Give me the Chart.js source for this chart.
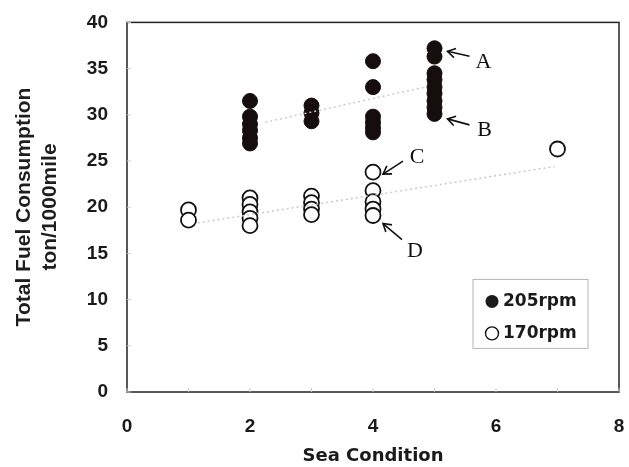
<!DOCTYPE html>
<html>
<head>
<meta charset="utf-8">
<script src="https://cdn.jsdelivr.net/npm/chart.js@4.4.0/dist/chart.umd.min.js"></script>
<style>
  html, body { margin: 0; padding: 0; background: #ffffff; }
  #wrap { width: 629px; height: 467px; }
</style>
</head>
<body>
<div id="wrap"><canvas id="fuelChart" width="629" height="467"></canvas></div>
<script>
// Sea condition vs fuel consumption
const rpm205X = [2, 2, 2, 2, 2, 2, 3, 3, 3, 4, 4, 4, 4, 4, 4, 5, 5, 5, 5, 5, 5, 5, 5, 5];
const rpm205Y = [31.5, 29.8, 29.0, 28.3, 27.5, 26.9, 31.0, 30.2, 29.3, 35.8, 33.0, 29.8, 29.2, 28.6, 28.1,
                 37.2, 36.3, 34.5, 33.8, 33.0, 32.3, 31.5, 30.8, 30.1];
const rpm170X = [1, 1, 2, 2, 2, 2, 2, 3, 3, 3, 3, 4, 4, 4, 4, 4, 7];
const rpm170Y = [19.7, 18.6, 21.0, 20.3, 19.5, 18.8, 18.0, 21.2, 20.5, 19.8, 19.2, 23.8, 21.8, 20.6, 19.8, 19.1, 26.3];

// trend lines (end points)
const trend205X = [2.25, 4.85];
const trend205Y = [29.2, 33.0];
const trend170X = [1.15, 6.95];
const trend170Y = [18.3, 24.4];

const xTicks = [0, 2, 4, 6, 8];
const yTicks = [0, 5, 10, 15, 20, 25, 30, 35, 40];

const seriesNames = ['205rpm', '170rpm'];
const yTitle = ['Total Fuel Consumption', 'ton/1000mile'];

// letters A-D and the point each one marks
const noteText = ['A', 'B', 'C', 'D'];
const noteX = [5, 5, 4, 4];
const noteY = [37.2, 30.1, 23.8, 19.1];

const toPts = (xs, ys) => xs.map((x, i) => ({ x: x, y: ys[i] }));

const frame = {
    id: 'frame',
    afterDraw(chart) {
        const { ctx, chartArea: a, scales } = chart;
        ctx.save();
        ctx.strokeStyle = '#222';
        ctx.lineWidth = 1.5;
        ctx.strokeRect(a.left, a.top, a.right - a.left, a.bottom - a.top);

        // small inward ticks
        ctx.lineWidth = 1;
        ctx.strokeStyle = '#ccc';
        for (let v = 0; v <= 8; v++) {
            const px = scales.x.getPixelForValue(v);
            ctx.beginPath(); ctx.moveTo(px, a.bottom); ctx.lineTo(px, a.bottom - 4); ctx.stroke();
        }
        yTicks.forEach(v => {
            const py = scales.y.getPixelForValue(v);
            ctx.beginPath(); ctx.moveTo(a.left, py); ctx.lineTo(a.left + 4, py); ctx.stroke();
        });

        // two-line y title
        ctx.fillStyle = '#1e1e1e';
        ctx.font = 'bold 21px "Liberation Sans", Arial, sans-serif';
        ctx.textAlign = 'center';
        ctx.textBaseline = 'middle';
        const cy = 207;
        [[24, yTitle[0]], [50, yTitle[1]]].forEach(([x, t]) => {
            ctx.save();
            ctx.translate(x, cy);
            ctx.rotate(-Math.PI / 2);
            ctx.fillText(t, 0, 0);
            ctx.restore();
        });

        // arrows and letters: [head dx, head dy, tail dx, tail dy, text dx, text dy]
        const offs = [
            [13, 3, 35, 8, 49, 14],
            [13, 5, 35, 11, 50, 16],
            [10, 2, 30, -11, 44, -15],
            [10, 8, 29, 24, 42, 36]
        ];
        ctx.strokeStyle = '#111';
        ctx.fillStyle = '#111';
        ctx.lineWidth = 1.6;
        ctx.font = '22px "Liberation Serif", "DejaVu Serif", serif';
        noteText.forEach((t, i) => {
            const bx = scales.x.getPixelForValue(noteX[i]);
            const by = scales.y.getPixelForValue(noteY[i]);
            const o = offs[i];
            const hx = bx + o[0], hy = by + o[1], tx = bx + o[2], ty = by + o[3];
            ctx.beginPath(); ctx.moveTo(tx, ty); ctx.lineTo(hx, hy); ctx.stroke();
            const ang = Math.atan2(ty - hy, tx - hx);
            ctx.beginPath();
            ctx.moveTo(hx + 9 * Math.cos(ang + 0.55), hy + 9 * Math.sin(ang + 0.55));
            ctx.lineTo(hx, hy);
            ctx.lineTo(hx + 9 * Math.cos(ang - 0.55), hy + 9 * Math.sin(ang - 0.55));
            ctx.stroke();
            ctx.fillText(t, bx + o[4], by + o[5]);
        });

        // legend box, bottom-right inside the plot
        const lx = a.left + 346, ly = a.top + 257, lw = 115, lh = 69;
        ctx.strokeStyle = '#b5b5b5';
        ctx.lineWidth = 1;
        ctx.strokeRect(lx, ly, lw, lh);
        ctx.font = 'bold 17px "DejaVu Sans", sans-serif';
        ctx.textAlign = 'left';
        ctx.fillStyle = '#1a1a1a';
        ctx.beginPath(); ctx.arc(lx + 19, ly + 22, 6.5, 0, Math.PI * 2); ctx.fill();
        ctx.fillText(seriesNames[0], lx + 30, ly + 22);
        ctx.beginPath(); ctx.arc(lx + 19, ly + 54, 6.5, 0, Math.PI * 2);
        ctx.strokeStyle = '#111'; ctx.lineWidth = 1.4; ctx.stroke();
        ctx.fillText(seriesNames[1], lx + 30, ly + 54);
        ctx.restore();
    }
};

const ctx = document.getElementById('fuelChart').getContext('2d');
new Chart(ctx, {
    type: 'scatter',
    data: {
        datasets: [
            {
                type: 'line',
                label: 'trend 205',
                data: toPts(trend205X, trend205Y),
                borderColor: '#cfc8c8',
                borderWidth: 1.5,
                borderDash: [2, 3],
                pointRadius: 0,
                fill: false
            },
            {
                type: 'line',
                label: 'trend 170',
                data: toPts(trend170X, trend170Y),
                borderColor: '#cfc8c8',
                borderWidth: 1.5,
                borderDash: [2, 3],
                pointRadius: 0,
                fill: false
            },
            {
                label: seriesNames[0],
                data: toPts(rpm205X, rpm205Y),
                backgroundColor: '#160d0d',
                borderColor: '#160d0d',
                borderWidth: 1,
                pointRadius: 7.5
            },
            {
                label: seriesNames[1],
                data: toPts(rpm170X, rpm170Y),
                backgroundColor: '#ffffff',
                borderColor: '#111111',
                borderWidth: 1.8,
                pointRadius: 7.5
            }
        ]
    },
    options: {
        responsive: false,
        animation: false,
        layout: { padding: { left: 8, right: 0, top: 14, bottom: 0 } },
        plugins: {
            legend: { display: false },
            tooltip: { enabled: false }
        },
        scales: {
            x: {
                type: 'linear',
                min: 0,
                max: 8,
                afterBuildTicks: s => { s.ticks = xTicks.map(v => ({ value: v })); },
                afterFit: s => { s.height = 75; s.paddingRight = 10; s.paddingLeft = 0; },
                grid: { display: false },
                border: { display: false },
                ticks: {
                    color: '#1a1a1a',
                    padding: 15,
                    font: { family: '"Liberation Sans", Arial, sans-serif', size: 19, weight: 'bold' }
                },
                title: {
                    display: true,
                    text: 'Sea Condition',
                    color: '#1a1a1a',
                    padding: { top: 0, bottom: 0 },
                    font: { family: '"DejaVu Sans", sans-serif', size: 18, weight: 'bold', lineHeight: 1.2 }
                }
            },
            y: {
                min: 0,
                max: 40,
                afterBuildTicks: s => { s.ticks = yTicks.map(v => ({ value: v })); },
                afterFit: s => { s.width = 119; },
                grid: { display: false },
                border: { display: false },
                ticks: {
                    color: '#1a1a1a',
                    padding: 11,
                    font: { family: '"Liberation Sans", Arial, sans-serif', size: 19, weight: 'bold' }
                },
                title: { display: false }
            }
        }
    },
    plugins: [frame]
});
</script>
</body>
</html>
